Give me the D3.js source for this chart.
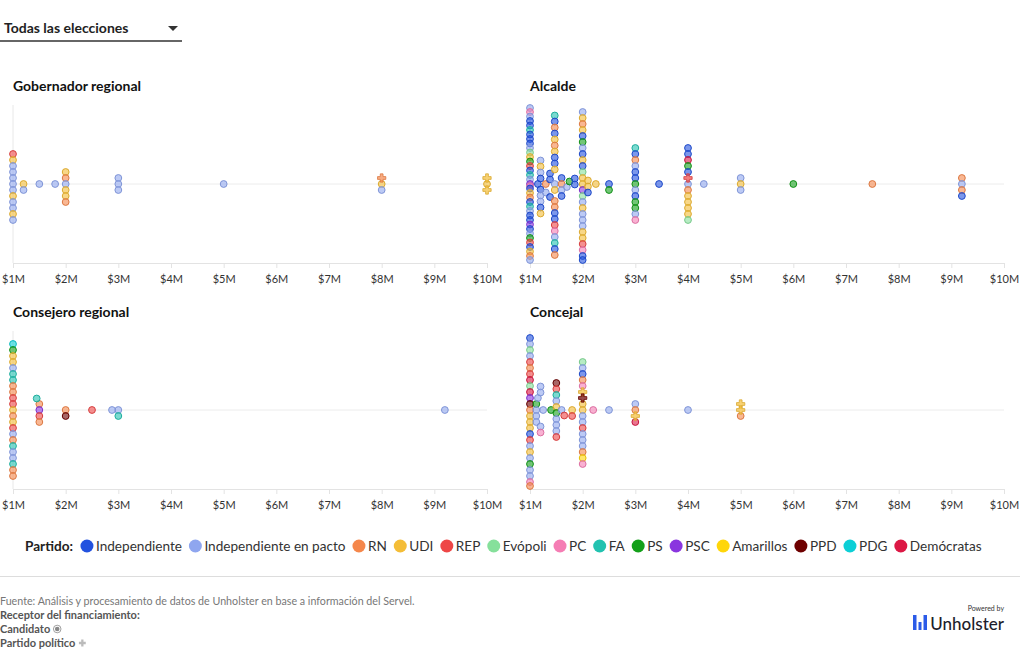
<!DOCTYPE html>
<html><head><meta charset="utf-8">
<script src="https://cdn.jsdelivr.net/npm/d3@7"></script>
<style>
body{margin:0;background:#fff;}
svg{font-family:Lato,"Open Sans",sans-serif;}
</style></head><body>
<svg id="chart" width="1020" height="650"></svg>
<script>
// ---- Data ----
const partidoCodigos = ["IND","PAC","RN","UDI","REP","EVO","PC","FA","PS","PSC","AMA","PPD","PDG","DEM"];
const partidoNombres = ["Independiente","Independiente en pacto","RN","UDI","REP","Evópoli","PC","FA","PS","PSC","Amarillos","PPD","PDG","Demócratas"];
const partidoColores = ["#2352df","#8fa6ef","#f5874b","#f4bd37","#ee4646","#86e09b","#f57db4","#22c2b0","#14a01a","#8a35df","#ffd60a","#6e0000","#0ccfd6","#dc1845"];
const tickValores = [1,2,3,4,5,6,7,8,9,10];
const tickEtiquetas = ["$1M","$2M","$3M","$4M","$5M","$6M","$7M","$8M","$9M","$10M"];

// [monto en millones, partido, receptor (C = candidato, P = partido)]; top-to-bottom within equal amounts
const gobernador = [
  [1,"REP"],[1,"UDI"],[1,"PAC"],[1,"PAC"],[1,"PAC"],[1,"PAC"],[1,"PAC"],[1,"UDI"],[1,"PAC"],[1,"PAC"],[1,"UDI"],[1,"PAC"],
  [1.2,"UDI"],[1.2,"PAC"],
  [1.5,"PAC"],[1.8,"PAC"],
  [2,"UDI"],[2,"RN"],[2,"PAC"],[2,"UDI"],[2,"UDI"],[2,"RN"],
  [3,"PAC"],[3,"PAC"],[3,"PAC"],
  [5,"PAC"],
  [8,"RN","P"],[8,"UDI"],[8,"PAC"],
  [10,"UDI","P"],[10,"UDI"],[10,"UDI","P"]
];
const alcalde = [
  [1,"PAC"],[1,"PC"],[1,"PAC"],[1,"IND"],[1,"IND"],[1,"FA"],[1,"IND"],[1,"IND"],[1,"IND"],[1,"PAC"],[1,"EVO"],[1,"UDI"],
  [1,"PS"],[1,"REP"],[1,"IND"],[1,"FA"],[1,"PAC"],[1,"PSC"],[1,"PC"],[1,"IND"],[1,"UDI"],[1,"RN"],[1,"IND"],[1,"FA"],
  [1,"PAC"],[1,"IND"],[1,"IND"],[1,"PSC"],[1,"IND"],[1,"PAC"],[1,"PS"],[1,"REP"],[1,"IND"],[1,"UDI"],[1,"RN"],[1,"PAC"],
  [1.15,"IND"],
  [1.2,"PAC"],[1.2,"UDI"],[1.2,"PAC"],[1.2,"IND"],[1.2,"IND"],[1.2,"PAC"],[1.2,"PAC"],[1.2,"IND"],[1.2,"UDI"],
  [1.3,"RN"],[1.3,"PAC"],
  [1.38,"IND"],[1.38,"IND"],[1.38,"IND"],
  [1.47,"FA"],[1.47,"IND"],[1.47,"RN"],[1.47,"IND"],[1.47,"UDI"],[1.47,"RN"],[1.47,"UDI"],[1.47,"IND"],[1.47,"IND"],[1.47,"UDI"],[1.47,"PAC"],
  [1.47,"UDI"],[1.47,"RN"],[1.47,"RN"],[1.47,"IND"],[1.47,"IND"],[1.47,"REP"],[1.47,"PC"],[1.47,"PAC"],[1.47,"FA"],[1.47,"IND"],[1.47,"RN"],
  [1.6,"IND"],[1.6,"RN"],[1.6,"PAC"],[1.6,"IND"],
  [1.7,"PAC"],[1.75,"PS"],
  [1.85,"IND"],[1.85,"IND"],
  [2,"PAC"],[2,"UDI"],[2,"RN"],[2,"UDI"],[2,"IND"],[2,"PS"],[2,"PAC"],[2,"IND"],[2,"UDI"],[2,"IND"],[2,"EVO"],[2,"UDI"],[2,"UDI"],
  [2,"PSC"],[2,"EVO"],[2,"PAC"],[2,"UDI"],[2,"PAC"],[2,"PAC"],[2,"PAC"],[2,"UDI"],[2,"UDI"],[2,"REP"],[2,"PC"],[2,"IND"],[2,"IND"],
  [2.1,"UDI"],[2.1,"UDI"],[2.1,"IND"],
  [2.25,"UDI"],
  [2.5,"IND"],[2.5,"PS"],
  [3,"FA"],[3,"IND"],[3,"RN"],[3,"PAC"],[3,"IND"],[3,"IND"],[3,"PS"],[3,"PAC"],[3,"IND"],[3,"PS"],[3,"PS"],[3,"PAC"],[3,"PC"],
  [3.45,"IND"],
  [4,"IND"],[4,"IND"],[4,"DEM"],[4,"PS"],[4,"IND"],[4,"REP","P"],[4,"PAC"],[4,"RN"],[4,"UDI"],[4,"UDI"],[4,"UDI"],[4,"UDI"],[4,"EVO"],
  [4.3,"PAC"],
  [5,"PAC"],[5,"UDI"],[5,"PAC"],
  [6,"PS"],
  [7.5,"RN"],
  [9.2,"RN"],[9.2,"PAC"],[9.2,"RN"],[9.2,"IND"]
];
const consejero = [
  [1,"PDG"],[1,"PS"],[1,"UDI"],[1,"UDI"],[1,"PAC"],[1,"FA"],[1,"FA"],[1,"RN"],[1,"RN"],[1,"REP"],[1,"REP"],[1,"UDI"],
  [1,"RN"],[1,"UDI"],[1,"REP"],[1,"PAC"],[1,"RN"],[1,"FA"],[1,"PAC"],[1,"PAC"],[1,"FA"],[1,"RN"],[1,"RN"],
  [1.5,"RN"],[1.5,"PSC"],[1.5,"REP"],[1.5,"RN"],
  [1.45,"FA"],
  [2,"RN"],[2,"PPD"],
  [2.5,"REP"],
  [3,"PAC"],[3,"FA"],
  [2.88,"PAC"],
  [9.2,"PAC"]
];
const concejal = [
  [1,"IND"],[1,"PAC"],[1,"EVO"],[1,"PAC"],[1,"REP"],[1,"RN"],[1,"REP"],[1,"DEM"],[1,"EVO"],[1,"DEM"],[1,"PSC"],[1,"PPD"],[1,"RN"],
  [1,"UDI"],[1,"UDI"],[1,"UDI"],[1,"IND"],[1,"REP"],[1,"PAC"],[1,"UDI"],[1,"PAC"],[1,"PS"],[1,"PAC"],[1,"PAC"],[1,"PC"],[1,"RN"],
  [1.12,"PS"],[1.12,"PAC"],[1.12,"PAC"],[1.12,"PAC"],
  [1.15,"PAC"],
  [1.2,"PAC"],[1.2,"PAC"],[1.2,"PAC"],[1.2,"PC"],
  [1.25,"PAC"],
  [1.4,"PS"],
  [1.5,"PPD"],[1.5,"REP"],[1.5,"FA"],[1.5,"PAC"],[1.5,"UDI"],[1.5,"PS"],[1.5,"PAC"],[1.5,"PAC"],[1.5,"PAC"],[1.5,"REP"],
  [1.6,"PAC"],[1.65,"REP"],
  [1.8,"UDI"],[1.8,"REP"],
  [2,"EVO"],[2,"PAC"],[2,"IND"],[2,"RN"],[2,"PC"],[2,"UDI","P"],[2,"PPD","P"],[2,"UDI"],[2,"UDI"],[2,"PAC"],[2,"PAC"],[2,"REP"],
  [2,"PAC"],[2,"PAC"],[2,"PAC"],[2,"RN"],[2,"AMA"],[2,"PC"],
  [2.2,"PC"],[2.5,"PAC"],
  [3,"PAC"],[3,"RN"],[3,"UDI","P"],[3,"DEM"],
  [4,"PAC"],
  [5,"UDI","P"],[5,"UDI","P"],[5,"RN"]
];

// ---- Setup ----
const svg = d3.select("#chart");
const color = d3.scaleOrdinal().domain(partidoCodigos).range(partidoColores);
const xLeft = d3.scaleLinear().domain([1,10]).range([13,487]);
const xRight = d3.scaleLinear().domain([1,10]).range([530,1004]);
const paneles = [
  {titulo:"Gobernador regional", datos:gobernador, x:xLeft, yc:184},
  {titulo:"Alcalde", datos:alcalde, x:xRight, yc:184},
  {titulo:"Consejero regional", datos:consejero, x:xLeft, yc:410},
  {titulo:"Concejal", datos:concejal, x:xRight, yc:410}
];
const HALF = 75, AXIS_OFF = 79, DMAX = 6, R = 3.4;

function dodge(pts){
  const counts = d3.rollup(pts, v=>v.length, d=>d.monto);
  pts.forEach(p=>{ p.D = Math.min(DMAX, 2*HALF/Math.max(1,counts.get(p.monto))); });
  const cands=[0];
  for(let k=1;k<=2*(HALF+1);k++){cands.push(k/2);cands.push(-k/2);}
  const placed=[];
  for(const p of pts){
    const near = placed.filter(q=>Math.abs(q.px-p.px)<DMAX);
    let best=0, bestScore=-Infinity;
    for(const c of cands){
      let score=Infinity;
      for(const q of near){
        const d=Math.min(p.D,q.D);
        const r=Math.hypot(q.px-p.px,q.oy-c)/d;
        if(r<score) score=r;
      }
      if(score>=1){best=c;break;}
      if(score>bestScore+1e-9){bestScore=score;best=c;}
    }
    p.oy=best; placed.push(p);
  }
  const groups = d3.group(pts, d=>d.monto);
  for(const [,g] of groups){
    const ys = g.map(d=>d.oy).sort((a,b)=>a-b);
    g.forEach((d,i)=>d.oy=ys[i]);
  }
}

paneles.forEach(pn=>{
  const x = pn.x, yc = pn.yc;
  const g = svg.append("g");
  g.append("text").attr("x",x(1)).attr("y",yc-93).attr("font-size",14).attr("font-weight",700).attr("fill","#111").text(pn.titulo);
  g.append("line").attr("x1",x(1)).attr("x2",x(1)).attr("y1",yc-AXIS_OFF).attr("y2",yc+AXIS_OFF).attr("stroke","#e8e8e8");
  g.append("line").attr("x1",x(1)).attr("x2",x(10)).attr("y1",yc).attr("y2",yc).attr("stroke","#ececec");
  const ax = g.append("g").attr("transform",`translate(0,${yc+AXIS_OFF})`)
    .call(d3.axisBottom(x).tickValues(tickValores).tickFormat((d,i)=>tickEtiquetas[i]).tickSizeOuter(0).tickSize(5).tickPadding(7));
  ax.select(".domain").attr("stroke","#e3e3e3");
  ax.selectAll(".tick line").attr("stroke","#e3e3e3");
  ax.selectAll(".tick text").attr("fill","#333").attr("font-size",11).attr("font-family","Lato,sans-serif");

  const pts = pn.datos.map(d=>({monto:d[0], partido:d[1], receptor:d[2]||"C", px:x(d[0])}));
  dodge(pts);
  const marks = g.append("g");
  marks.selectAll("circle").data(pts.filter(d=>d.receptor==="C")).join("circle")
    .attr("cx",d=>d.px).attr("cy",d=>yc+d.oy).attr("r",R)
    .attr("fill",d=>color(d.partido)).attr("fill-opacity",0.6)
    .attr("stroke",d=>d3.color(color(d.partido)).darker(0.3)).attr("stroke-width",1);
  marks.selectAll("path").data(pts.filter(d=>d.receptor==="P")).join("path")
    .attr("transform",d=>`translate(${d.px},${yc+d.oy})`)
    .attr("d",d3.symbol(d3.symbolCross,38))
    .attr("fill",d=>color(d.partido)).attr("fill-opacity",0.7)
    .attr("stroke",d=>d3.color(color(d.partido)).darker(0.3)).attr("stroke-width",0.8);
});

// ---- Dropdown ----
svg.append("text").attr("x",4).attr("y",33).attr("font-size",14).attr("font-weight",700).attr("fill","#222").text("Todas las elecciones");
svg.append("path").attr("d","M168,26L178,26L173,31Z").attr("fill","#333");
svg.append("line").attr("x1",0).attr("x2",182).attr("y1",41).attr("y2",41).attr("stroke","#333").attr("stroke-width",1.5);

// ---- Legend ----
const leg = svg.append("g");
const ly = 546, lfs = 13.6;
const lab = leg.append("text").attr("x",25).attr("y",ly+5).attr("font-size",lfs).attr("font-weight",700).attr("fill","#222").text("Partido:");
let cx = 25 + lab.node().getComputedTextLength() + 14;
partidoCodigos.forEach((c,i)=>{
  leg.append("circle").attr("cx",cx).attr("cy",ly).attr("r",6.5).attr("fill",color(c));
  const t = leg.append("text").attr("x",cx+9).attr("y",ly+5).attr("font-size",lfs).attr("fill","#333").text(partidoNombres[i]);
  cx = cx + 9 + t.node().getComputedTextLength() + 13.4;
});

// ---- Footer ----
svg.append("line").attr("x1",0).attr("x2",1020).attr("y1",576.5).attr("y2",576.5).attr("stroke","#ddd");
svg.append("text").attr("x",0).attr("y",605).attr("font-size",10.7).attr("fill","#777").text("Fuente: Análisis y procesamiento de datos de Unholster en base a información del Servel.");
svg.append("text").attr("x",0).attr("y",619).attr("font-size",11).attr("font-weight",700).attr("fill","#555").text("Receptor del financiamiento:");
const tc = svg.append("text").attr("x",0).attr("y",633).attr("font-size",11).attr("font-weight",700).attr("fill","#555").text("Candidato");
const wc = tc.node().getComputedTextLength();
svg.append("circle").attr("cx",wc+7).attr("cy",629).attr("r",3.8).attr("fill","none").attr("stroke","#888").attr("stroke-width",0.8);
svg.append("circle").attr("cx",wc+7).attr("cy",629).attr("r",2.3).attr("fill","#888");
const tp = svg.append("text").attr("x",0).attr("y",647).attr("font-size",11).attr("font-weight",700).attr("fill","#555").text("Partido político");
const wp = tp.node().getComputedTextLength();
svg.append("path").attr("transform",`translate(${wp+7},643)`).attr("d",d3.symbol(d3.symbolCross,26)).attr("fill","#bbb");

// ---- Logo ----
svg.append("text").attr("x",1004).attr("y",611).attr("text-anchor","end").attr("font-size",7).attr("fill","#333").text("Powered by");
svg.append("rect").attr("x",913).attr("y",615).attr("width",3.5).attr("height",15).attr("fill","#2b5be8");
svg.append("rect").attr("x",918.5).attr("y",622).attr("width",3).attr("height",8).attr("fill","#2b5be8");
svg.append("rect").attr("x",923.5).attr("y",615).attr("width",3.5).attr("height",15).attr("fill","#2b5be8");
svg.append("text").attr("x",1004).attr("y",630).attr("text-anchor","end").attr("font-size",17).attr("font-weight",500).attr("fill","#1d1d2b").text("Unholster");
</script>
</body></html>
